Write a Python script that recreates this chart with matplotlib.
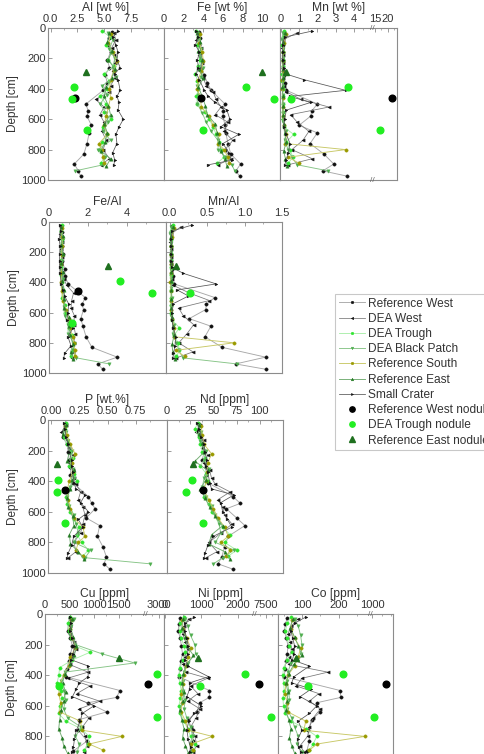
import numpy as np
import matplotlib
matplotlib.use("Agg")
import matplotlib.pyplot as plt
from matplotlib.ticker import FixedLocator, FixedFormatter, NullLocator

plt.rcParams['font.family'] = ['Liberation Sans', 'DejaVu Sans']

# ---------------- data ----------------
# Reference West
rw_depth = [25, 65, 110, 160, 210, 260, 310, 360, 410, 500, 545, 580, 640, 690, 760, 830, 895, 940, 975]
rw_al = [5.7, 5.5, 5.4, 5.6, 5.3, 5.5, 5.1, 5.3, 4.9, 3.3, 3.5, 3.4, 3.8, 3.6, 3.4, 3.1, 2.2, 2.6, 2.8]
rw_fe = [3.6, 3.7, 3.6, 3.8, 3.9, 3.8, 4.1, 4.4, 4.8, 6.2, 6.0, 6.0, 6.2, 6.3, 6.5, 6.8, 7.8, 7.3, 7.7]
rw_feal = [0.64, 0.67, 0.66, 0.68, 0.73, 0.69, 0.8, 0.83, 0.98, 1.86, 1.7, 1.77, 1.63, 1.74, 1.9, 2.2, 3.5, 2.5, 2.75]
rw_mn = [0.15, 0.12, 0.1, 0.12, 0.1, 0.12, 0.15, 0.2, 0.3, 2.0, 1.7, 1.63, 1.0, 2.0, 1.6, 2.37, 2.9, 2.3, 3.65]
rw_mnal = [0.03, 0.02, 0.02, 0.02, 0.02, 0.02, 0.03, 0.04, 0.06, 0.6, 0.49, 0.48, 0.26, 0.55, 0.47, 0.7, 1.28, 0.88, 1.28]
rw_p = [0.12, 0.11, 0.10, 0.14, 0.15, 0.16, 0.17, 0.17, 0.19, 0.33, 0.36, 0.39, 0.31, 0.43, 0.41, 0.46, 0.49, 0.47, 0.52]
rw_nd = [35, 33, 36, 38, 40, 38, 42, 42, 44, 71, 79, 64, 75, 84, 66, 62, 59, 55, 71]
rw_cu = [500, 480, 460, 520, 560, 520, 480, 450, 420, 1530, 1460, 880, 1260, 700, 680, 860, 580, 620, 640]
rw_ni = [420, 380, 360, 420, 450, 480, 430, 400, 380, 1220, 1220, 950, 880, 630, 760, 770, 720, 700, 740]
rw_co = [60, 55, 52, 58, 62, 60, 56, 54, 52, 203, 205, 140, 150, 126, 117, 120, 113, 118, 125]

# DEA West
dw_depth = [30, 80, 130, 180, 230, 280, 330, 380, 420, 470, 520, 570, 620, 680, 740, 800, 860, 900]
dw_al = [5.9, 6.1, 5.7, 5.9, 6.0, 5.8, 6.0, 5.6, 5.5, 4.2, 5.0, 4.6, 5.0, 4.8, 5.2, 4.9, 5.5, 4.7]
dw_fe = [3.5, 3.3, 3.8, 3.6, 3.9, 3.7, 4.0, 4.3, 5.0, 5.3, 5.8, 5.2, 6.5, 6.1, 7.0, 6.2, 6.8, 5.5]
dw_feal = [0.6, 0.55, 0.66, 0.61, 0.65, 0.64, 0.67, 0.77, 0.91, 1.26, 1.16, 1.13, 1.3, 1.27, 1.35, 1.27, 1.24, 1.17]
dw_mn = [0.9, 0.1, 0.08, 0.1, 0.12, 0.1, 0.1, 0.15, 0.3, 1.1, 2.64, 0.53, 0.9, 1.54, 1.2, 0.6, 1.72, 0.4]
dw_mnal = [0.15, 0.02, 0.01, 0.02, 0.02, 0.02, 0.02, 0.03, 0.05, 0.26, 0.53, 0.12, 0.18, 0.32, 0.23, 0.12, 0.31, 0.09]
dw_p = [0.13, 0.09, 0.14, 0.16, 0.19, 0.17, 0.19, 0.2, 0.22, 0.26, 0.24, 0.28, 0.3, 0.28, 0.26, 0.2, 0.22, 0.15]
dw_nd = [36, 31, 40, 38, 44, 40, 46, 48, 52, 68, 55, 60, 62, 70, 58, 45, 54, 42]
dw_cu = [560, 520, 500, 600, 640, 560, 500, 880, 460, 920, 650, 1120, 700, 900, 760, 820, 860, 800]
dw_ni = [650, 520, 480, 560, 620, 540, 500, 580, 1170, 700, 900, 620, 960, 850, 700, 820, 880, 760]
dw_co = [90, 70, 62, 68, 72, 66, 64, 170, 100, 84, 145, 120, 150, 130, 120, 115, 95, 105]

# DEA Trough
dt_depth = [20, 60, 110, 160, 210, 250, 300, 350, 400, 450, 500, 550, 600, 650, 700, 750, 800, 850, 890]
dt_al = [4.8, 5.6, 5.2, 5.7, 5.4, 5.9, 5.0, 5.5, 5.3, 4.6, 5.2, 5.0, 5.6, 4.9, 5.3, 4.8, 4.6, 5.0, 4.7]
dt_fe = [3.3, 3.5, 3.4, 3.6, 3.7, 3.5, 3.2, 3.4, 3.5, 3.3, 3.4, 4.2, 4.6, 5.0, 5.3, 5.6, 5.8, 6.1, 5.4]
dt_feal = [0.69, 0.63, 0.65, 0.63, 0.69, 0.6, 0.64, 0.62, 0.66, 0.72, 0.65, 0.84, 0.82, 1.02, 1.0, 1.17, 1.26, 1.22, 1.15]
dt_mn = [0.15, 0.1, 0.08, 0.1, 0.1, 0.1, 0.08, 0.08, 0.1, 0.1, 0.12, 0.1, 0.12, 0.15, 0.7, 0.3, 0.5, 0.65, 0.4]
dt_mnal = [0.05, 0.02, 0.02, 0.02, 0.02, 0.02, 0.02, 0.02, 0.02, 0.02, 0.02, 0.02, 0.02, 0.03, 0.13, 0.06, 0.11, 0.13, 0.09]
dt_p = [0.13, 0.12, 0.11, 0.14, 0.17, 0.19, 0.16, 0.2, 0.23, 0.16, 0.13, 0.14, 0.17, 0.2, 0.25, 0.23, 0.27, 0.33, 0.28]
dt_nd = [33, 30, 34, 36, 38, 41, 36, 42, 44, 38, 40, 45, 48, 55, 60, 68, 62, 75, 66]
dt_cu = [520, 470, 480, 540, 620, 920, 560, 300, 280, 250, 320, 350, 300, 280, 420, 740, 900, 880, 800]
dt_ni = [520, 420, 400, 450, 520, 560, 480, 420, 380, 400, 450, 420, 380, 420, 520, 620, 700, 820, 780]
dt_co = [70, 60, 55, 60, 66, 72, 60, 50, 48, 50, 52, 48, 50, 55, 70, 110, 140, 130, 120]

# DEA Black Patch
db_depth = [30, 80, 140, 200, 260, 320, 380, 440, 500, 560, 620, 680, 740, 800, 850, 900, 940]
db_al = [5.4, 5.8, 5.5, 6.0, 5.8, 6.1, 4.8, 5.3, 4.6, 5.2, 5.4, 4.9, 5.6, 4.4, 5.1, 4.9, 2.3]
db_fe = [3.5, 3.6, 3.8, 3.7, 4.0, 3.8, 3.4, 3.5, 3.4, 3.9, 4.3, 4.8, 5.5, 5.5, 6.3, 6.9, 7.2]
db_feal = [0.65, 0.62, 0.69, 0.62, 0.69, 0.62, 0.71, 0.66, 0.74, 0.75, 0.8, 0.98, 0.98, 1.25, 1.24, 1.41, 3.1]
db_mn = [0.1, 0.08, 0.1, 0.1, 0.12, 0.1, 0.1, 0.1, 0.12, 0.1, 0.12, 0.3, 0.2, 0.4, 0.6, 0.9, 2.6]
db_mnal = [0.02, 0.01, 0.02, 0.02, 0.02, 0.02, 0.02, 0.02, 0.03, 0.02, 0.02, 0.06, 0.04, 0.09, 0.12, 0.18, 0.9]
db_p = [0.12, 0.13, 0.15, 0.18, 0.17, 0.19, 0.2, 0.17, 0.14, 0.16, 0.2, 0.22, 0.24, 0.2, 0.35, 0.3, 0.88]
db_nd = [34, 37, 36, 42, 40, 45, 40, 38, 42, 48, 52, 56, 58, 52, 72, 60, 50]
db_cu = [600, 540, 520, 620, 1160, 1830, 400, 330, 380, 420, 380, 460, 740, 620, 700, 660, 640]
db_ni = [560, 620, 700, 820, 840, 620, 520, 480, 500, 560, 520, 600, 700, 760, 680, 720, 700]
db_co = [80, 90, 96, 100, 98, 70, 62, 60, 64, 66, 60, 72, 80, 90, 86, 100, 110]

# Reference South
rs_depth = [40, 100, 160, 220, 280, 340, 400, 460, 520, 580, 640, 700, 760, 800, 850, 890]
rs_al = [5.6, 5.4, 5.8, 6.2, 5.9, 5.6, 5.5, 5.6, 5.4, 5.2, 5.0, 5.3, 4.5, 4.8, 4.9, 5.0]
rs_fe = [3.7, 3.6, 3.9, 4.0, 3.8, 3.5, 3.4, 3.7, 3.8, 4.6, 5.0, 5.6, 5.5, 6.1, 6.5, 6.6]
rs_feal = [0.66, 0.67, 0.67, 0.65, 0.64, 0.63, 0.62, 0.66, 0.7, 0.88, 1.0, 1.06, 1.22, 1.27, 1.33, 1.32]
rs_mn = [0.3, 0.15, 0.12, 0.1, 0.1, 0.08, 0.08, 0.1, 0.1, 0.12, 0.15, 0.3, 0.25, 3.55, 0.4, 1.0]
rs_mnal = [0.06, 0.03, 0.02, 0.02, 0.02, 0.02, 0.01, 0.02, 0.02, 0.02, 0.03, 0.06, 0.06, 0.86, 0.08, 0.2]
rs_p = [0.12, 0.14, 0.17, 0.21, 0.18, 0.19, 0.16, 0.14, 0.15, 0.17, 0.2, 0.28, 0.3, 0.24, 0.22, 0.28]
rs_nd = [37, 38, 40, 48, 44, 43, 42, 40, 45, 50, 55, 62, 66, 58, 68, 64]
rs_cu = [540, 500, 560, 620, 520, 480, 380, 300, 280, 320, 300, 720, 760, 1565, 900, 1190]
rs_ni = [460, 500, 600, 700, 640, 580, 520, 480, 450, 470, 440, 560, 640, 1300, 720, 760]
rs_co = [72, 70, 80, 96, 90, 80, 62, 56, 54, 60, 62, 110, 105, 270, 140, 120]

# Reference East
re_depth = [30, 90, 150, 210, 270, 330, 390, 450, 510, 570, 630, 690, 750, 810, 860, 910]
re_al = [5.5, 5.3, 5.7, 5.4, 6.0, 5.7, 5.2, 5.0, 5.4, 5.6, 5.0, 5.3, 5.1, 4.7, 5.6, 5.2]
re_fe = [3.4, 3.7, 3.5, 3.9, 3.6, 4.0, 3.5, 3.9, 4.2, 4.4, 5.2, 5.4, 5.6, 5.8, 6.2, 6.4]
re_feal = [0.62, 0.7, 0.61, 0.72, 0.6, 0.7, 0.67, 0.78, 0.78, 0.79, 1.04, 1.02, 1.1, 1.23, 1.11, 1.23]
re_mn = [0.25, 0.1, 0.1, 0.12, 0.1, 0.1, 0.08, 0.1, 0.1, 0.12, 0.15, 0.2, 0.3, 0.15, 0.25, 0.35]
re_mnal = [0.05, 0.02, 0.02, 0.02, 0.02, 0.02, 0.02, 0.02, 0.02, 0.02, 0.03, 0.04, 0.06, 0.03, 0.04, 0.07]
re_p = [0.13, 0.1, 0.15, 0.16, 0.14, 0.2, 0.18, 0.17, 0.14, 0.15, 0.19, 0.2, 0.16, 0.17, 0.24, 0.29]
re_nd = [35, 34, 38, 40, 30, 44, 42, 36, 41, 46, 52, 60, 48, 45, 62, 68]
re_cu = [560, 520, 580, 640, 600, 520, 400, 360, 420, 380, 330, 300, 280, 350, 380, 460]
re_ni = [480, 460, 560, 600, 780, 600, 500, 460, 520, 480, 400, 460, 520, 480, 560, 640]
re_co = [75, 68, 80, 90, 100, 78, 64, 56, 62, 60, 56, 64, 70, 66, 72, 80]

# Small Crater
sc_depth = [20, 60, 110, 160, 210, 260, 300, 340, 410, 450, 490, 540, 600, 650, 700, 760, 820, 870, 900]
sc_al = [6.3, 5.8, 6.1, 6.3, 6.2, 6.5, 6.0, 6.3, 6.5, 6.2, 6.4, 6.3, 6.8, 6.4, 6.1, 6.2, 5.8, 6.0, 5.9]
sc_fe = [3.3, 3.5, 3.2, 3.6, 3.4, 3.5, 3.3, 3.6, 4.1, 4.5, 5.2, 6.4, 6.7, 5.8, 7.6, 6.0, 6.6, 6.9, 4.5]
sc_feal = [0.55, 0.6, 0.52, 0.57, 0.55, 0.54, 0.55, 0.57, 0.63, 0.72, 0.8, 1.0, 0.98, 0.9, 1.24, 0.97, 1.13, 0.8, 0.76]
sc_mn = [1.72, 0.2, 0.1, 0.1, 0.1, 0.15, 0.2, 1.27, 3.55, 0.5, 1.63, 0.3, 0.2, 0.15, 0.3, 0.5, 0.4, 0.3, 0.2]
sc_mnal = [0.3, 0.03, 0.02, 0.02, 0.02, 0.02, 0.03, 0.18, 0.62, 0.1, 0.25, 0.05, 0.03, 0.03, 0.05, 0.08, 0.07, 0.05, 0.04]
sc_p = [0.11, 0.12, 0.13, 0.15, 0.16, 0.18, 0.18, 0.19, 0.2, 0.22, 0.3, 0.26, 0.33, 0.24, 0.28, 0.2, 0.18, 0.15, 0.14]
sc_nd = [32, 35, 37, 40, 41, 43, 42, 44, 46, 48, 72, 58, 60, 65, 70, 50, 44, 41, 40]
sc_cu = [500, 530, 520, 560, 600, 580, 540, 880, 880, 700, 640, 560, 1000, 760, 720, 640, 600, 580, 560]
sc_ni = [800, 560, 540, 600, 640, 620, 560, 620, 1200, 680, 675, 600, 1000, 800, 650, 600, 640, 700, 680]
sc_co = [110, 80, 70, 75, 80, 78, 74, 120, 78, 72, 125, 95, 140, 120, 90, 100, 88, 92, 96]

# Nodules
rwn_depth = [460]
rwn_al = [2.3]; rwn_fe = [3.8]; rwn_feal = [1.5]; rwn_mn = [21.7]; rwn_mnal = [9.4]
rwn_p = [0.12]; rwn_nd = [39]; rwn_cu = [2770]; rwn_ni = [7200]; rwn_co = [1180]

dtn_depth = [390, 470, 670]
dtn_al = [2.2, 2.0, 3.4]; dtn_fe = [8.3, 11.2, 4.0]; dtn_feal = [3.65, 5.3, 1.2]
dtn_mn = [3.7, 0.55, 17.0]; dtn_mnal = [1.7, 0.27, 5.0]
dtn_p = [0.06, 0.05, 0.12]; dtn_nd = [27, 21, 39]
dtn_cu = [2950, 280, 2950]; dtn_ni = [2200, 950, 7700]; dtn_co = [211, 116, 1030]

ren_depth = [290]
ren_al = [3.3]; ren_fe = [10.0]; ren_feal = [3.05]; ren_mn = [0.3]; ren_mnal = [0.09]
ren_p = [0.05]; ren_nd = [28]; ren_cu = [1500]; ren_ni = [920]; ren_co = [85]

KEYS = ['Al', 'Fe', 'Mn', 'FeAl', 'MnAl', 'P', 'Nd', 'Cu', 'Ni', 'Co']

def pack(depth, *vals):
    d = {'depth': depth}
    for k, v in zip(KEYS, vals):
        d[k] = v
    return d

profiles = [
    ('Reference West', pack(rw_depth, rw_al, rw_fe, rw_mn, rw_feal, rw_mnal, rw_p, rw_nd, rw_cu, rw_ni, rw_co),
     dict(marker='o', ms=2.4, mew=0.3, mfc='#111111', mec='#111111', color='#a8a8a8', lw=0.65)),
    ('DEA West', pack(dw_depth, dw_al, dw_fe, dw_mn, dw_feal, dw_mnal, dw_p, dw_nd, dw_cu, dw_ni, dw_co),
     dict(marker='<', ms=2.3, mew=0.3, mfc='#111111', mec='#111111', color='#777777', lw=0.55)),
    ('DEA Trough', pack(dt_depth, dt_al, dt_fe, dt_mn, dt_feal, dt_mnal, dt_p, dt_nd, dt_cu, dt_ni, dt_co),
     dict(marker='o', ms=2.4, mew=0.3, mfc='#2ee62e', mec='#2ee62e', color='#aaeeaa', lw=0.65)),
    ('DEA Black Patch', pack(db_depth, db_al, db_fe, db_mn, db_feal, db_mnal, db_p, db_nd, db_cu, db_ni, db_co),
     dict(marker='v', ms=2.4, mew=0.3, mfc='#4fae4f', mec='#4fae4f', color='#86c486', lw=0.65)),
    ('Reference South', pack(rs_depth, rs_al, rs_fe, rs_mn, rs_feal, rs_mnal, rs_p, rs_nd, rs_cu, rs_ni, rs_co),
     dict(marker='o', ms=2.4, mew=0.3, mfc='#9a9a00', mec='#9a9a00', color='#c8c866', lw=0.65)),
    ('Reference East', pack(re_depth, re_al, re_fe, re_mn, re_feal, re_mnal, re_p, re_nd, re_cu, re_ni, re_co),
     dict(marker='^', ms=2.4, mew=0.3, mfc='#237a23', mec='#237a23', color='#70ac70', lw=0.65)),
    ('Small Crater', pack(sc_depth, sc_al, sc_fe, sc_mn, sc_feal, sc_mnal, sc_p, sc_nd, sc_cu, sc_ni, sc_co),
     dict(marker='>', ms=2.0, mew=0.3, mfc='#111111', mec='#111111', color='#555555', lw=0.55)),
]
nodules = [
    ('Reference West nodule', pack(rwn_depth, rwn_al, rwn_fe, rwn_mn, rwn_feal, rwn_mnal, rwn_p, rwn_nd, rwn_cu, rwn_ni, rwn_co),
     dict(marker='o', ms=4.8, mfc='#000000', mec='#000000', ls='none')),
    ('DEA Trough nodule', pack(dtn_depth, dtn_al, dtn_fe, dtn_mn, dtn_feal, dtn_mnal, dtn_p, dtn_nd, dtn_cu, dtn_ni, dtn_co),
     dict(marker='o', ms=4.8, mfc='#22ee22', mec='#22ee22', ls='none')),
    ('Reference East nodule', pack(ren_depth, ren_al, ren_fe, ren_mn, ren_feal, ren_mnal, ren_p, ren_nd, ren_cu, ren_ni, ren_co),
     dict(marker='^', ms=4.8, mfc='#1f701f', mec='#1f701f', ls='none')),
]

# ---------------- layout ----------------
W, H = 484, 754
def rect(l, r, t, b):
    return [l / W, 1 - b / H, (r - l) / W, (b - t) / H]

def broken(x0, x1, x2, x3, frac):
    def fwd(x):
        x = np.asarray(x, float)
        return np.where(x <= x1, (x - x0) / (x1 - x0) * frac,
                        np.where(x >= x2, frac + (x - x2) / (x3 - x2) * (1 - frac), frac))
    def inv(y):
        y = np.asarray(y, float)
        return np.where(y <= frac, x0 + y / frac * (x1 - x0),
                        x2 + (y - frac) / (1 - frac) * (x3 - x2))
    return fwd, inv

# key, title, box(px), scale, ticks, tick labels, minor ticks, first-in-row, last row
panels = [
    ('Al', 'Al [wt %]', (48, 164, 28, 180), ('lin', -0.25, 10.6), [0, 2.5, 5, 7.5], ['0.0', '2.5', '5.0', '7.5'],
     [1.25, 3.75, 6.25, 8.75, 10], True, False),
    ('Fe', 'Fe [wt %]', (164, 280, 28, 180), ('lin', 0, 11.8), [0, 2, 4, 6, 8, 10], None, [1, 3, 5, 7, 9, 11], False, False),
    ('Mn', 'Mn [wt %]', (280, 397, 28, 180), ('brk', -0.05, 5.0, 13.75, 23.75, 0.786), [0, 1, 2, 3, 4, 15, 20], None,
     [0.5, 1.5, 2.5, 3.5, 4.5, 17.5, 22.5], False, False),
    ('FeAl', 'Fe/Al', (49, 166, 222, 373), ('lin', 0, 6), [0, 2, 4], None, [1, 3, 5], True, False),
    ('MnAl', 'Mn/Al', (166, 282, 222, 373), ('lin', -0.05, 1.5), [0, 0.5, 1.0, 1.5], ['0.0', '0.5', '1.0', '1.5'],
     [0.25, 0.75, 1.25], False, False),
    ('P', 'P [wt.%]', (48, 167, 420, 573), ('lin', -0.03, 1.03), [0, 0.25, 0.5, 0.75], ['0.00', '0.25', '0.50', '0.75'],
     [0.125, 0.375, 0.625, 0.875], True, False),
    ('Nd', 'Nd [ppm]', (167, 283, 420, 573), ('lin', 0, 125), [0, 25, 50, 75, 100], None,
     [12.5, 37.5, 62.5, 87.5, 112.5], False, False),
    ('Cu', 'Cu [ppm]', (45, 164, 614, 767), ('brk', 0, 2040, 2700, 3100, 0.84), [0, 500, 1000, 1500, 3000], None,
     [250, 750, 1250, 1750, 2850], True, True),
    ('Ni', 'Ni [ppm]', (164, 278, 614, 767), ('brk', -30, 2450, 7000, 8000, 0.79), [0, 1000, 2000, 7500], None,
     [500, 1500, 7250, 7750], False, True),
    ('Co', 'Co [ppm]', (278, 393, 614, 767), ('brk', 35, 284, 975, 1275, 0.80), [100, 200, 1000], None,
     [50, 150, 250, 1125, 1250], False, True),
]

SPINE = '#8c8c8c'
TXT = '#333333'

fig = plt.figure(figsize=(W / 100, H / 100), dpi=100)
legend_handles = None

for key, title, box, sc, ticks, tlabels, minor, first, lastrow in panels:
    ax = fig.add_axes(rect(*box))
    if sc[0] == 'brk':
        fwd, inv = broken(*sc[1:])
        ax.set_xscale('function', functions=(fwd, inv))
        ax.set_xlim(sc[1], sc[4])
        frac = sc[5]
        marks = (1.0,) if lastrow else (1.0, 0.0)
        for yy in marks:
            ax.text(frac, yy, '//', transform=ax.transAxes, ha='center', va='center',
                    fontsize=6, color='#666666', clip_on=False, zorder=10)
    else:
        ax.set_xlim(sc[1], sc[2])
    ax.set_ylim(1000, 0)

    handles = []
    for name, data, st in profiles:
        h, = ax.plot(data[key], data['depth'], label=name, zorder=3, **st)
        handles.append(h)
    for name, data, st in nodules:
        h, = ax.plot(data[key], data['depth'], label=name, zorder=5, **st)
        handles.append(h)
    if legend_handles is None:
        legend_handles = handles

    ax.xaxis.set_ticks_position('top')
    ax.xaxis.set_label_position('top')
    ax.xaxis.set_major_locator(FixedLocator(ticks))
    if tlabels is None:
        tlabels = [str(t) for t in ticks]
    ax.xaxis.set_major_formatter(FixedFormatter(tlabels))
    ax.xaxis.set_minor_locator(FixedLocator(minor))
    ax.tick_params(axis='x', which='major', direction='in', length=3, width=0.6, color=SPINE,
                   labelsize=8, labelcolor=TXT, pad=3)
    ax.tick_params(axis='x', which='minor', direction='in', length=1.6, width=0.5, color=SPINE)

    yt = [0, 200, 400, 600, 800] if lastrow else [0, 200, 400, 600, 800, 1000]
    ax.yaxis.set_major_locator(FixedLocator(yt))
    ax.yaxis.set_minor_locator(NullLocator())
    ax.tick_params(axis='y', which='major', direction='in', length=3, width=0.6, color=SPINE,
                   labelsize=8, labelcolor=TXT, pad=1.5, labelleft=first)
    if first:
        ax.set_ylabel('Depth [cm]', fontsize=8.5, color=TXT, labelpad=2)
        if lastrow:
            ax.yaxis.set_label_coords(-0.23, 0.52)
    for s in ax.spines.values():
        s.set_color(SPINE)
        s.set_linewidth(0.8)
    ax.set_title(title, fontsize=8.7, color=TXT, pad=1.5)

labels = [h.get_label() for h in legend_handles]
leg = fig.legend(legend_handles, labels, loc='upper left',
                 bbox_to_anchor=(335 / W, 1 - 294 / H), bbox_transform=fig.transFigure,
                 fontsize=8.6, frameon=True, fancybox=False, borderaxespad=0, borderpad=0.3,
                 handlelength=2.2, handletextpad=0.3, labelspacing=0.27, numpoints=1,
                 markerscale=0.8)
leg.get_frame().set_edgecolor('#bbbbbb')
leg.get_frame().set_linewidth(0.8)
for t in leg.get_texts():
    t.set_color(TXT)

fig.savefig('out.png', dpi=100)
